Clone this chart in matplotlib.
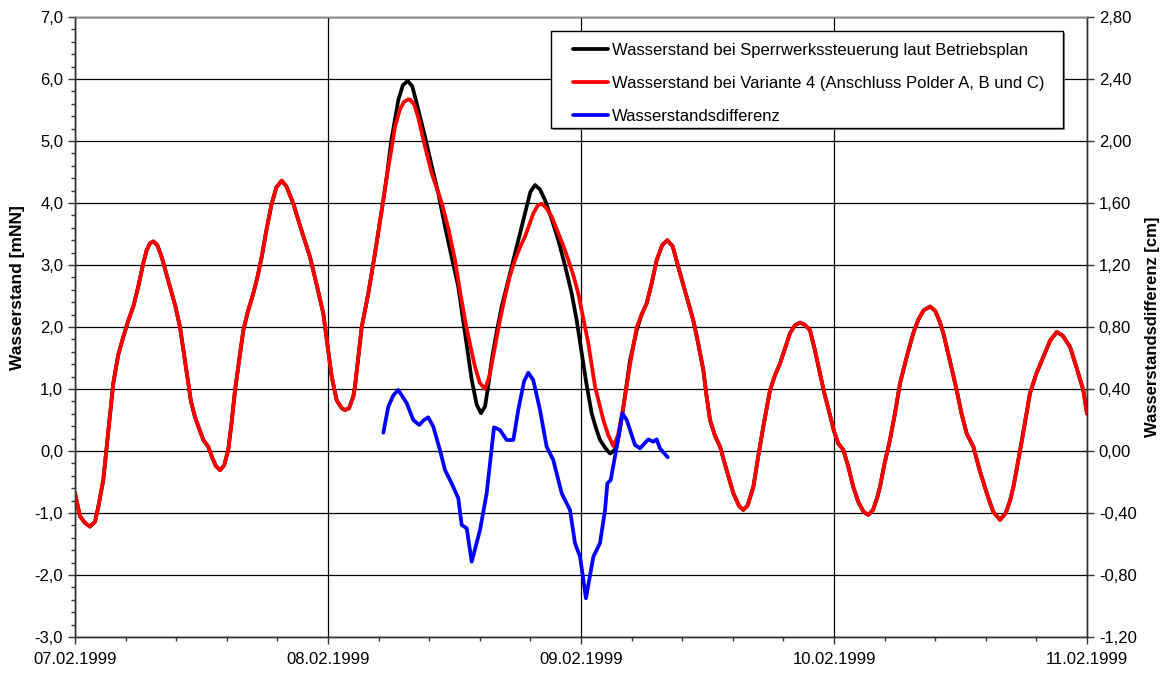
import matplotlib
matplotlib.use("Agg")
import matplotlib.pyplot as plt
from matplotlib.patches import Rectangle
from matplotlib.ticker import MultipleLocator, FuncFormatter

plt.rcParams['font.family'] = ['Liberation Sans', 'DejaVu Sans']

# Time axis in hours from 07.02.1999 00:00
day_labels = ["07.02.1999", "08.02.1999", "09.02.1999", "10.02.1999", "11.02.1999"]

# Water level, variant 4 (connection of polders A, B and C) [mNN]
t_var4 = [0.0, 0.47, 0.95, 1.42, 1.9, 2.21, 2.68, 3.15, 3.63, 4.1, 4.58, 5.05, 5.53, 6.0,
          6.48, 6.8, 7.11, 7.43, 7.81, 8.22, 8.6, 9.01, 9.5, 9.96, 10.35, 10.75, 11.0, 11.38,
          11.8, 12.17, 12.64, 13.0, 13.35, 13.76, 14.15, 14.54, 14.85, 15.18, 15.6, 15.97,
          16.4, 16.91, 17.3, 17.71, 18.2, 18.66, 19.1, 19.61, 20.05, 20.71, 21.5, 22.29,
          22.9, 23.55, 24.0, 24.35, 24.82, 25.3, 25.61, 26.0, 26.4, 26.56, 27.2, 27.82,
          28.46, 29.25, 29.57, 30.0, 30.36, 30.8, 31.2, 31.6, 31.78, 32.2, 32.6, 33.2,
          33.84, 34.3, 34.79, 35.4, 36.05, 36.5, 37.0, 37.5, 37.94, 38.4, 38.89, 39.3,
          39.84, 40.3, 40.79, 41.25, 41.74, 42.2, 42.69, 43.1, 43.47, 43.9, 44.27, 44.7,
          45.22, 45.85, 46.3, 46.8, 47.3, 47.74, 48.2, 48.69, 49.33, 50.12, 50.6, 51.07,
          51.5, 52.02, 52.66, 53.29, 53.75, 54.23, 54.7, 55.18, 55.7, 56.19, 56.7, 57.39,
          58.0, 58.65, 59.1, 59.6, 59.9, 60.24, 60.7, 61.19, 61.8, 62.45, 63.0, 63.4,
          63.8, 64.35, 64.8, 65.29, 65.93, 66.4, 66.88, 67.35, 67.83, 68.3, 68.77, 69.2,
          69.72, 70.2, 70.67, 71.1, 71.62, 72.0, 72.41, 72.88, 73.35, 73.83, 74.3, 74.8,
          75.26, 75.7, 76.1, 76.36, 76.8, 77.31, 77.8, 78.26, 78.9, 79.52, 80.0, 80.5,
          81.11, 81.6, 82.0, 82.37, 83.0, 83.64, 84.1, 84.59, 85.22, 85.8, 86.49, 87.1,
          87.75, 88.3, 88.7, 89.02, 89.8, 90.59, 91.2, 91.86, 92.5, 93.13, 93.7, 94.39,
          95.0, 95.65, 96.0]
h_var4 = [-0.68, -1.05, -1.16, -1.22, -1.14, -0.90, -0.47, 0.30, 1.09, 1.55, 1.84, 2.10, 2.33, 2.65,
          3.03, 3.24, 3.35, 3.38, 3.32, 3.13, 2.90, 2.65, 2.35, 2.0, 1.55, 1.09, 0.80, 0.55,
          0.35, 0.18, 0.07, -0.10, -0.24, -0.31, -0.23, 0.02, 0.45, 0.98, 1.50, 1.95,
          2.25, 2.54, 2.80, 3.13, 3.60, 3.99, 4.25, 4.36, 4.27, 3.99, 3.55, 3.13,
          2.70, 2.22, 1.65, 1.20, 0.82, 0.69, 0.66, 0.69, 0.88, 1.04, 2.0, 2.54,
          3.19, 4.05, 4.42, 4.85, 5.23, 5.50, 5.63, 5.67, 5.67, 5.58, 5.35, 4.91,
          4.48, 4.25, 4.0, 3.60, 3.08, 2.60, 2.11, 1.70, 1.36, 1.10, 1.0, 1.20,
          1.68, 2.10, 2.49, 2.82, 3.08, 3.28, 3.46, 3.65, 3.83, 3.96, 3.99, 3.92,
          3.78, 3.51, 3.32, 3.08, 2.82, 2.54, 2.15, 1.74, 1.04, 0.50, 0.25, 0.08,
          0.25, 0.71, 1.40, 2.0, 2.20, 2.38, 2.70, 3.08, 3.32, 3.40, 3.30, 2.87,
          2.50, 2.11, 1.75, 1.31, 0.90, 0.5, 0.25, 0.07, -0.30, -0.68, -0.89, -0.95,
          -0.88, -0.58, -0.10, 0.39, 0.98, 1.22, 1.41, 1.65, 1.90, 2.03, 2.07, 2.04,
          1.95, 1.62, 1.25, 0.92, 0.58, 0.32, 0.12, 0.02, -0.25, -0.58, -0.82, -0.98,
          -1.03, -0.95, -0.75, -0.58, -0.20, 0.18, 0.62, 1.09, 1.52, 1.90, 2.12, 2.27,
          2.33, 2.26, 2.10, 1.90, 1.45, 0.98, 0.60, 0.28, 0.07, -0.30, -0.68, -0.98,
          -1.11, -1.00, -0.80, -0.58, 0.15, 0.93, 1.25, 1.52, 1.78, 1.92, 1.86, 1.68,
          1.35, 0.98, 0.60]

# Water level with barrier control according to the operating plan [mNN],
# where it differs from variant 4 (08.02. 05:30 to 09.02. 05:30)
t_plan_mid = [30.0, 30.67, 31.1, 31.56, 32.0, 32.5, 33.2, 33.84, 34.46, 35.1, 35.7, 36.36,
              37.0, 37.63, 38.1, 38.51, 38.9, 39.2, 39.53, 40.0, 40.48, 40.95, 41.42, 42.05,
              42.69, 43.2, 43.64, 44.1, 44.58, 45.2, 45.85, 46.5, 47.12, 47.6, 48.07, 48.5,
              49.01, 49.4, 49.8, 50.3, 50.75, 51.1, 51.39, 51.7, 52.02, 52.66, 53.29]
h_plan_mid = [5.0, 5.66, 5.90, 5.97, 5.88, 5.55, 5.07, 4.60, 4.16, 3.62, 3.15, 2.65,
              1.90, 1.15, 0.75, 0.61, 0.72, 1.05, 1.47, 1.92, 2.33, 2.65, 2.97, 3.40,
              3.83, 4.18, 4.29, 4.22, 4.05, 3.75, 3.40, 2.98, 2.54, 2.10, 1.58, 1.10,
              0.61, 0.38, 0.18, 0.05, -0.04, 0.0, 0.07, 0.35, 0.71, 1.47, 1.95]

# Difference of the two water levels [cm]
t_diff = [29.25, 29.72, 30.2, 30.67, 31.47, 32.09, 32.66, 33.1, 33.51, 33.99, 34.62, 35.10,
          35.73, 36.36, 36.68, 37.16, 37.63, 38.42, 39.05, 39.75, 40.32, 40.95, 41.58, 42.05,
          42.6, 43.0, 43.47, 44.11, 44.74, 45.37, 46.17, 46.96, 47.43, 47.91, 48.47, 49.17,
          49.80, 50.28, 50.5, 50.82, 51.39, 51.92, 52.34, 53.12, 53.6, 54.38, 54.85, 55.17,
          55.49, 56.22]
d_diff = [0.118, 0.286, 0.36, 0.394, 0.308, 0.20, 0.168, 0.20, 0.217, 0.157, 0.006, -0.123,
          -0.209, -0.305, -0.477, -0.499, -0.714, -0.51, -0.273, 0.153, 0.135, 0.071, 0.071, 0.265,
          0.45, 0.505, 0.458, 0.265, 0.028, -0.058, -0.273, -0.381, -0.595, -0.682, -0.95, -0.682,
          -0.595, -0.381, -0.209, -0.187, 0.028, 0.243, 0.20, 0.039, 0.017, 0.075, 0.060, 0.075,
          0.017, -0.04]

legend_labels = ["Wasserstand bei Sperrwerkssteuerung laut Betriebsplan",
                 "Wasserstand bei Variante 4 (Anschluss Polder A, B und C)",
                 "Wasserstandsdifferenz"]

# Operating-plan series: identical to variant 4 outside the differing window
i0 = t_var4.index(29.57) + 1
i1 = t_var4.index(53.75)
t_plan = t_var4[:i0] + t_plan_mid + t_var4[i1:]
h_plan = h_var4[:i0] + h_plan_mid + h_var4[i1:]

W, H = 1167, 673
fig = plt.figure(figsize=(W / 100, H / 100), dpi=100)
ax = fig.add_axes([75 / W, 1 - 637 / H, 1012 / W, 620 / H])
ax2 = ax.twinx()

lw = 2.7
l1, = ax.plot(t_plan, h_plan, color="black", lw=lw, solid_joinstyle="round",
              solid_capstyle="round", zorder=3)
l2, = ax.plot(t_var4, h_var4, color="#ff0000", lw=lw, solid_joinstyle="round",
              solid_capstyle="round", zorder=4)
l3, = ax2.plot(t_diff, d_diff, color="#0000ff", lw=lw, solid_joinstyle="round",
               solid_capstyle="round", zorder=4)

ax.set_xlim(0, 96)
ax.set_ylim(-3.0, 7.0)
ax2.set_ylim(-1.2, 2.8)

ax.xaxis.set_major_locator(MultipleLocator(24))
ax.xaxis.set_minor_locator(MultipleLocator(4.8))
ax.xaxis.set_major_formatter(FuncFormatter(lambda v, p: day_labels[int(round(v / 24))]
                                           if 0 <= round(v / 24) < len(day_labels) else ""))
ax.yaxis.set_major_locator(MultipleLocator(1.0))
ax.yaxis.set_minor_locator(MultipleLocator(0.2))
ax.yaxis.set_major_formatter(FuncFormatter(lambda v, p: f"{v:.1f}".replace(".", ",")))
ax2.yaxis.set_major_locator(MultipleLocator(0.4))
ax2.yaxis.set_major_formatter(FuncFormatter(lambda v, p: f"{v:.2f}".replace(".", ",")))

ax.grid(True, which="major", color="black", lw=0.9)
ax.set_axisbelow(True)

for a in (ax, ax2):
    for s in a.spines.values():
        s.set_linewidth(1.0)
        s.set_color("#333333")
ax2.spines["top"].set_color("#888888")
ax.tick_params(axis="both", which="major", direction="out", length=5, width=1.0,
               labelsize=12, colors="#333333", labelcolor="black")
ax.tick_params(axis="both", which="minor", direction="out", length=3, width=1.0, colors="#333333")
ax.tick_params(axis="x", which="major", pad=6)
ax2.tick_params(axis="y", which="major", direction="out", length=5, width=1.0,
                labelsize=12, colors="#333333", labelcolor="black")

ax.set_ylabel("Wasserstand [mNN]", fontsize=12.5, fontweight="bold")
ax.yaxis.set_label_coords(25 / W, 1 - 288 / H, transform=fig.transFigure)
ax2.set_ylabel("Wasserstandsdifferenz [cm]", fontsize=12, fontweight="bold")
ax2.yaxis.set_label_coords(1145 / W, 1 - 327 / H, transform=fig.transFigure)

# Legend box with a thin drop shadow
box_x0, box_y0, box_x1, box_y1 = 551, 31, 1063, 128
fig.patches.append(Rectangle(((box_x0 + 2) / W, 1 - (box_y1 + 2) / H),
                             (box_x1 - box_x0) / W, (box_y1 - box_y0) / H,
                             transform=fig.transFigure, facecolor="#8c8c8c",
                             edgecolor="none", zorder=5))
fig.patches.append(Rectangle((box_x0 / W, 1 - box_y1 / H),
                             (box_x1 - box_x0) / W, (box_y1 - box_y0) / H,
                             transform=fig.transFigure, facecolor="white",
                             edgecolor="black", lw=1.0, zorder=6))
leg = fig.legend([l1, l2, l3], legend_labels, loc="upper left",
                 bbox_to_anchor=(573 / W, 1 - 43 / H), bbox_transform=fig.transFigure,
                 fontsize=12, frameon=False, handlelength=2.1,
                 handletextpad=0.25, borderpad=0.0, labelspacing=1.07, borderaxespad=0)
leg.set_zorder(7)

fig.savefig("out.png", dpi=100, facecolor="white")
